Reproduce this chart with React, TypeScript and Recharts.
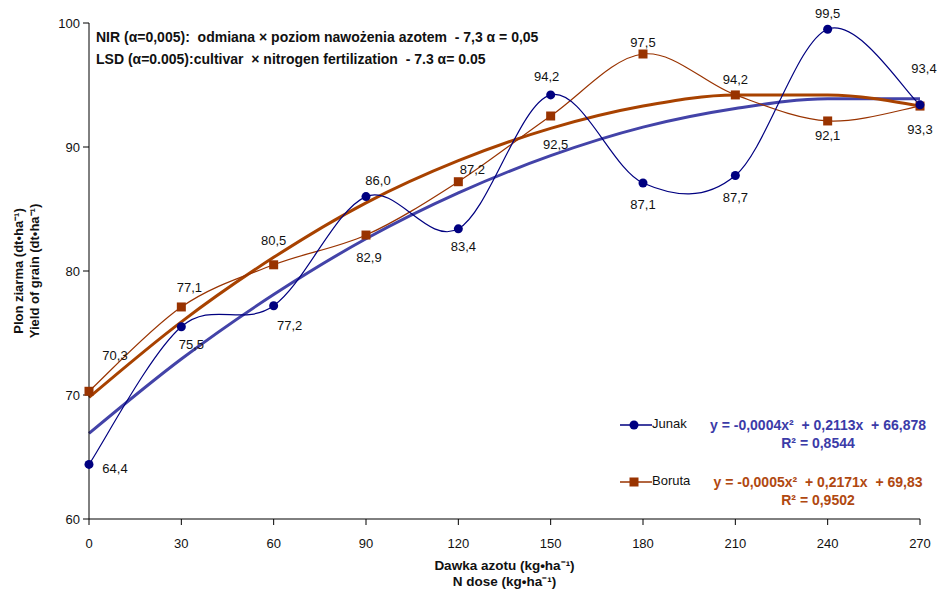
import React from "react";
import { LineChart, Line, XAxis, YAxis, LabelList, Label } from "recharts";

// nitrogen doses (kg/ha) and yields (dt/ha)
const doses = [0, 30, 60, 90, 120, 150, 180, 210, 240, 270];
const junak = [64.4, 75.5, 77.2, 86.0, 83.4, 94.2, 87.1, 87.7, 99.5, 93.4];
const boruta = [70.3, 77.1, 80.5, 82.9, 87.2, 92.5, 97.5, 94.2, 92.1, 93.3];
// polynomial trend lines
const junakTrend = [66.9, 72.9, 78.1, 82.6, 86.3, 89.3, 91.6, 93.1, 93.9, 93.9];
const borutaTrend = [69.8, 75.9, 81.1, 85.5, 88.9, 91.5, 93.3, 94.2, 94.2, 93.3];
const yTicks = [60, 70, 80, 90, 100];

// label offsets (dx, dy) per point
const junakLabelOff = [[26, 4], [10, 18], [16, 20], [12, -16], [5, 18], [-4, -18], [0, 22], [0, 22], [0, -16], [4, -36]];
const borutaLabelOff = [[26, -36], [8, -19], [0, -24], [3, 22], [14, -12], [5, 28], [0, -12], [0, -15], [0, 15], [0, 23]];

const data = doses.map((x, i) => ({
  x,
  junak: junak[i],
  boruta: boruta[i],
  junakTrend: junakTrend[i],
  borutaTrend: borutaTrend[i],
}));

const NAVY = "#000080";
const JTREND = "#4343a8";
const BROWN = "#993300";
const BTREND = "#a84200";
const FONT = "Arial, 'Liberation Sans', sans-serif";

// Excel-like smoothed line (Catmull-Rom bezier)
function excelSmooth(context: any) {
  let pts: number[][] = [];
  return {
    areaStart() {},
    areaEnd() {},
    lineStart() { pts = []; },
    point(x: number, y: number) { pts.push([+x, +y]); },
    lineEnd() {
      const n = pts.length;
      if (!n) return;
      context.moveTo(pts[0][0], pts[0][1]);
      for (let i = 0; i < n - 1; i++) {
        const p0 = pts[i - 1] || pts[i];
        const p1 = pts[i];
        const p2 = pts[i + 1];
        const p3 = pts[i + 2] || p2;
        context.bezierCurveTo(
          p1[0] + (p2[0] - p0[0]) / 6, p1[1] + (p2[1] - p0[1]) / 6,
          p2[0] - (p3[0] - p1[0]) / 6, p2[1] - (p3[1] - p1[1]) / 6,
          p2[0], p2[1]
        );
      }
    },
  };
}

const fmt = (v: number) => v.toFixed(1).replace(".", ",");

const makeLabel = (offs: number[][]) => (p: any) => {
  const o = offs[p.index] || [0, 0];
  return (
    <text x={p.x + o[0]} y={p.y + o[1]} textAnchor="middle" dominantBaseline="central"
      fontSize={13} fontFamily={FONT} fill="#111">
      {fmt(p.value)}
    </text>
  );
};

const SquareDot = (p: any) => (
  <rect key={p.index} x={p.cx - 4.5} y={p.cy - 4.5} width={9} height={9} fill={BROWN} />
);

const LegendBox = () => (
  <div style={{ fontFamily: FONT, fontSize: 13, position: "absolute", left: 620, top: 415, width: 325, height: 100 }}>
    <svg width={34} height={100} style={{ position: "absolute", left: 0, top: 0 }}>
      <line x1={0} y1={10} x2={32} y2={10} stroke={NAVY} strokeWidth={1.5} />
      <circle cx={14} cy={10} r={4.5} fill={NAVY} />
      <line x1={0} y1={67} x2={32} y2={67} stroke={BROWN} strokeWidth={1.5} />
      <rect x={9.5} y={62.5} width={9} height={9} fill={BROWN} />
    </svg>
    <div style={{ position: "absolute", left: 32, top: 1, color: "#111" }}>Junak</div>
    <div style={{ position: "absolute", left: 32, top: 58, color: "#111" }}>Boruta</div>
    <div style={{ position: "absolute", left: 85, top: 1, width: 226, textAlign: "center", fontWeight: "bold", fontSize: 14, color: "#3b3ba8", lineHeight: "18px" }}>
      y = -0,0004x² &nbsp;+ 0,2113x &nbsp;+ 66,878<br />R² = 0,8544
    </div>
    <div style={{ position: "absolute", left: 85, top: 58, width: 226, textAlign: "center", fontWeight: "bold", fontSize: 14, color: "#b04810", lineHeight: "18px" }}>
      y = -0,0005x² &nbsp;+ 0,2171x &nbsp;+ 69,83<br />R² = 0,9502
    </div>
  </div>
);

const YTitle = (props: any) => {
  const vb = props.viewBox || {};
  const cy = (vb.y || 23) + (vb.height || 496) / 2;
  return (
    <g fontFamily={FONT} fontSize={13} fontWeight="bold" fill="#111">
      <text x={18} y={cy} textAnchor="middle" dominantBaseline="central" transform={`rotate(-90 18 ${cy})`}>
        Plon ziarma (dt•ha⁻¹)
      </text>
      <text x={34} y={cy} textAnchor="middle" dominantBaseline="central" transform={`rotate(-90 34 ${cy})`}>
        Yield of grain (dt•ha⁻¹)
      </text>
    </g>
  );
};

const XTitle = (props: any) => {
  const vb = props.viewBox || {};
  const cx = (vb.x || 89) + (vb.width || 831) / 2;
  return (
    <g fontFamily={FONT} fontSize={13.5} fontWeight="bold" fill="#111">
      <text x={cx} y={565} textAnchor="middle" dominantBaseline="central">Dawka azotu (kg•ha⁻¹)</text>
      <text x={cx} y={581} textAnchor="middle" dominantBaseline="central">N dose (kg•ha⁻¹)</text>
    </g>
  );
};

export default function App() {
  return (
    <div style={{ position: "absolute", left: 0, top: 0, width: 945, height: 589, background: "#fff" }}>
      <LineChart width={945} height={589} data={data}
        margin={{ top: 23, right: 25, bottom: 30, left: 29 }}>
        <XAxis dataKey="x" type="number" domain={[0, 270]} ticks={doses} interval={0}
          height={40} stroke="#000" tickSize={6} tickMargin={14}
          tick={{ fill: "#111", fontSize: 13, fontFamily: "'Liberation Sans Narrow', 'Arial Narrow', Arial, sans-serif" }}>
          <Label content={<XTitle />} />
        </XAxis>
        <YAxis type="number" domain={[60, 100]} ticks={yTicks} interval={0} width={60}
          stroke="#000" tickSize={6} tickMargin={3}
          tick={{ fill: "#111", fontSize: 13, fontFamily: FONT }}>
          <Label content={<YTitle />} />
        </YAxis>
        <Line dataKey="junakTrend" type="monotone" stroke={JTREND} strokeWidth={3} dot={false}
          isAnimationActive={false} legendType="none" />
        <Line dataKey="borutaTrend" type="monotone" stroke={BTREND} strokeWidth={3} dot={false}
          isAnimationActive={false} legendType="none" />
        <Line dataKey="boruta" type={excelSmooth as any} stroke={BROWN} strokeWidth={1.2}
          dot={<SquareDot />} activeDot={false} isAnimationActive={false}>
          <LabelList dataKey="boruta" content={makeLabel(borutaLabelOff)} />
        </Line>
        <Line dataKey="junak" type={excelSmooth as any} stroke={NAVY} strokeWidth={1.2}
          dot={{ r: 4.5, fill: NAVY, stroke: NAVY, strokeWidth: 0 }} activeDot={false} isAnimationActive={false}>
          <LabelList dataKey="junak" content={makeLabel(junakLabelOff)} />
        </Line>
      </LineChart>
      <LegendBox />
      <div style={{ position: "absolute", left: 96, top: 26, fontFamily: FONT, fontSize: 14, fontWeight: "bold", color: "#111", lineHeight: "22px", whiteSpace: "pre" }}>
        {"NIR (α=0,005):  odmiana × poziom nawożenia azotem  - 7,3 α = 0,05\nLSD (α=0.005):cultivar  × nitrogen fertilization  - 7.3 α= 0.05"}
      </div>
    </div>
  );
}
